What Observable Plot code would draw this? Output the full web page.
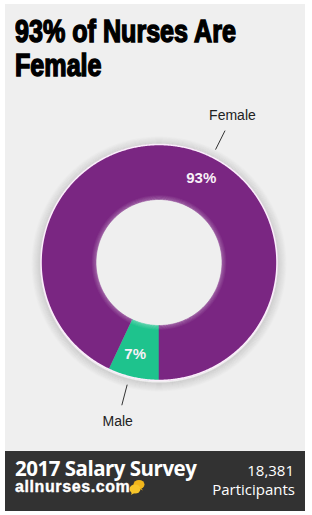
<!DOCTYPE html>
<html>
<head>
<meta charset="utf-8">
<script src="https://cdn.jsdelivr.net/npm/d3@7"></script>
<script src="https://cdn.jsdelivr.net/npm/@observablehq/plot@0.6"></script>
<style>
  html, body { margin: 0; padding: 0; }
  body { width: 312px; height: 515px; position: relative; overflow: hidden; background: #ffffff; font-family: "Liberation Sans", Arial, sans-serif; }
  #card { position: absolute; left: 5px; top: 4px; width: 300px; height: 507px; background: #efefef; }
  #title { position: absolute; left: 15px; top: 15px; font-family: "Liberation Sans", Arial, sans-serif; font-weight: 700; font-size: 31px; line-height: 34px; color: #000; -webkit-text-stroke: 1.5px #000; white-space: nowrap; transform: scaleX(0.81); transform-origin: 0 0; }
  #chart { position: absolute; left: 0; top: 92px; }
  #footer { position: absolute; left: 5px; top: 451px; width: 300px; height: 60px; background: #323232; color: #fff; }
  #footer div { position: absolute; white-space: nowrap; }
  #survey { left: 10px; top: 9px; font-family: "Open Sans", sans-serif; font-weight: 700; font-size: 20.5px; line-height: 16px; letter-spacing: -0.5px; }
  #site { left: 10px; top: 27.5px; font-family: "Liberation Sans", Arial, sans-serif; font-weight: 700; font-size: 16px; line-height: 12px; letter-spacing: 0.6px; -webkit-text-stroke: 0.35px #fff; }
  #site svg { vertical-align: -3px; margin-left: -1px; }
  #count { right: 11px; top: 12px; font-family: "Open Sans", sans-serif; font-size: 15px; line-height: 15px; text-align: right; }
  #parts { right: 10px; top: 31px; font-family: "Open Sans", sans-serif; font-size: 15px; line-height: 15px; text-align: right; }
</style>
</head>
<body>
<div id="card"></div>
<div id="title">93% of Nurses Are<br>Female</div>
<div id="chart"></div>
<div id="footer">
  <div id="survey">2017 Salary Survey</div>
  <div id="site">allnurses.com<svg width="16" height="16" viewBox="0 0 16 16"><ellipse cx="10" cy="5.5" rx="5.5" ry="4.5" fill="#f2b61b"/><ellipse cx="6" cy="10" rx="5.5" ry="4.5" fill="#f7c52a"/><path d="M3 13 L2 16 L6 13.5 Z" fill="#f7c52a"/><path d="M12 9 L14 11.5 L10 9.5 Z" fill="#f2b61b"/></svg></div>
  <div id="count">18,381</div>
  <div id="parts">Participants</div>
</div>
<script>
// ---- data ----
const categories = ["Male", "Female"];
const shares = [7, 93];
const shareLabels = ["7%", "93%"];
const sliceColors = ["#1ec38d", "#7a2682"];

// ---- layout constants (not data) ----
const innerRatio = 0.534;
const labelAngleShift = { Male: 2, Female: 14 }; // degrees

const rows = categories.map((c, i) => ({ name: c, value: shares[i], pct: shareLabels[i] }));
const pie = d3.pie().sort(null).value(d => d.value).startAngle(Math.PI).endAngle(3 * Math.PI);
const arcs = pie(rows);

// polygon outline of each slice in unit (radius = 1) coordinates
const slicePts = [];
for (const a of arcs) {
  const n = Math.max(4, Math.ceil((a.endAngle - a.startAngle) / (Math.PI / 360)));
  for (let k = 0; k <= n; k++) {
    const t = a.startAngle + (a.endAngle - a.startAngle) * k / n;
    slicePts.push({ name: a.data.name, x: Math.sin(t), y: Math.cos(t) });
  }
  for (let k = n; k >= 0; k--) {
    const t = a.startAngle + (a.endAngle - a.startAngle) * k / n;
    slicePts.push({ name: a.data.name, x: innerRatio * Math.sin(t), y: innerRatio * Math.cos(t) });
  }
}
const circle = (r, key) => d3.range(0, 721).map(k => ({ key, x: r * Math.sin(k * Math.PI / 360), y: r * Math.cos(k * Math.PI / 360) }));

// soft halo rings (fake drop shadow) and inner glow rings
const halo = d3.range(1, 10).flatMap(k => circle(1 + k * 0.0085, k));
const innerGlow = d3.range(0, 4).flatMap(k => circle(innerRatio + 0.004 + k * 0.009, k));

const labelInfo = arcs.map(a => {
  const ang = (a.startAngle + a.endAngle) / 2 + labelAngleShift[a.data.name] * Math.PI / 180;
  const s = Math.sin(ang), c = Math.cos(ang);
  return { name: a.data.name, pct: a.data.pct, s, c };
});

const plot = Plot.plot({
  width: 312,
  height: 356,
  margin: 0,
  x: { domain: [-1, 1], range: [40.5, 276.5], axis: null },
  y: { domain: [-1, 1], range: [288, 52], axis: null },
  color: { domain: categories, range: sliceColors },
  style: { background: "transparent", overflow: "visible" },
  marks: [
    Plot.line(halo, { x: "x", y: "y", z: "key", stroke: "#000", strokeWidth: 1.3, strokeOpacity: d => 0.1 * (1 - (d.key - 1) / 9), dy: 1.5 }),
    Plot.line(slicePts, { x: "x", y: "y", z: "name", fill: "name", stroke: "name", strokeWidth: 0.5 }),
    Plot.line(innerGlow, { x: "x", y: "y", z: "key", stroke: "#ffffff", strokeWidth: 1.2, strokeOpacity: d => 0.22 * (1 - d.key / 4) }),
    Plot.line(circle(1, 0), { x: "x", y: "y", stroke: "#fbeefb", strokeWidth: 1.6 }),
    Plot.text(labelInfo, { x: d => 0.8 * d.s, y: d => 0.8 * d.c, text: "pct", fill: "#f8f0f8", fontSize: 15, fontWeight: 700, fontFamily: "Liberation Sans, Arial, sans-serif" }),
    Plot.link(labelInfo, { x1: d => 1.07 * d.s, y1: d => 1.07 * d.c, x2: d => 1.25 * d.s, y2: d => 1.25 * d.c, stroke: "#333", strokeWidth: 1 }),
    Plot.text(labelInfo, { x: d => 1.39 * d.s, y: d => 1.39 * d.c, text: "name", fill: "#222", fontSize: 14, fontFamily: "Liberation Sans, Arial, sans-serif", ariaLabel: "names" })
  ]
});

const names = plot.querySelector('g[aria-label="names"]');
if (names) names.style.letterSpacing = "1px";
document.getElementById("chart").appendChild(plot);
</script>
</body>
</html>
